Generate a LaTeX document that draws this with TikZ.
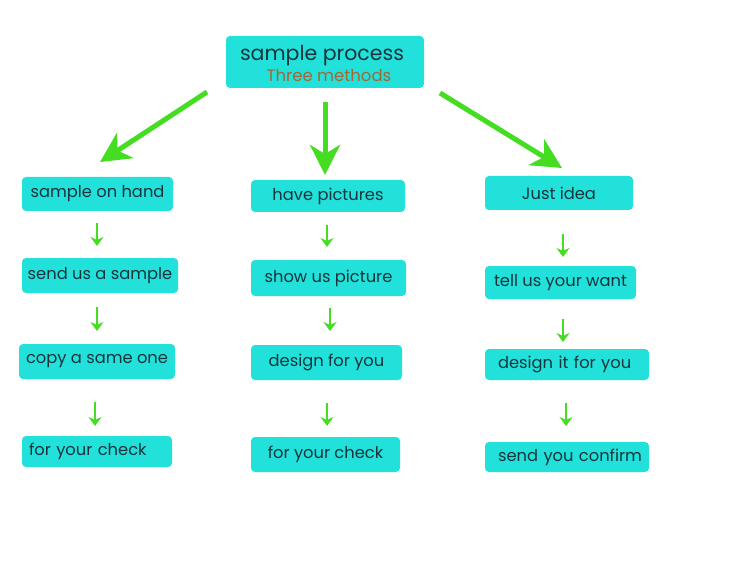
\documentclass[tikz,border=0pt]{standalone}
\usepackage{fontspec}
\setmainfont{Poppins}
\usetikzlibrary{arrows.meta}
\definecolor{boxfill}{HTML}{22E0DA}
\definecolor{boxtext}{HTML}{17343C}
\definecolor{arrowgreen}{HTML}{44DD22}
\definecolor{subtext}{HTML}{A0683A}
\tikzset{
  stepbox/.style={rectangle, rounded corners=4pt, fill=boxfill, draw=none, text=boxtext,
    font=\fontsize{16.3}{18}\selectfont, inner sep=0pt, anchor=center},
  bigarrow/.style={draw=arrowgreen, line width=5pt, -{Stealth[length=30pt,width=30pt,inset=9pt]}},
  smallarrow/.style={draw=arrowgreen, line width=2.5pt, -{Stealth[length=9pt,width=13pt,inset=3pt]}}
}
\begin{document}
\begin{tikzpicture}[x=1pt,y=-1pt]
\useasboundingbox (0,0) rectangle (752,572);
% title
\node[stepbox, minimum width=198pt, minimum height=52pt] (title) at (325,62) {};
\node[text=boxtext, font=\fontsize{20.5}{22}\selectfont, inner sep=0pt] (t1) at (322,56) {sample process};
\node[text=subtext, font=\fontsize{16.5}{18}\selectfont, inner sep=0pt] (t2) at (329,75) {Three methods};
% left column
\node[stepbox, minimum width=151pt, minimum height=34pt] (l1) at (97.5,194) {sample on hand};
\node[stepbox, minimum width=156pt, minimum height=35pt] (l2) at (100,275.5) {send us a sample};
\node[stepbox, minimum width=156pt, minimum height=35pt] (l3) at (97,361.5) {copy a same one};
\node[stepbox, minimum width=150pt, minimum height=31pt, text width=136pt, align=left] (l4) at (97,451.5) {\mbox{for your check}};
% middle column
\node[stepbox, minimum width=154pt, minimum height=32pt] (m1) at (328,196) {have pictures};
\node[stepbox, minimum width=155pt, minimum height=36pt] (m2) at (328.5,278) {show us picture};
\node[stepbox, minimum width=151pt, minimum height=35pt] (m3) at (326.5,362.5) {design for you};
\node[stepbox, minimum width=149pt, minimum height=35pt] (m4) at (325.5,454.5) {for your check};
% right column
\node[stepbox, minimum width=148pt, minimum height=34pt] (r1) at (559,193) {Just idea};
\node[stepbox, minimum width=151pt, minimum height=33pt] (r2) at (560.5,282.5) {tell us your want};
\node[stepbox, minimum width=164pt, minimum height=31pt, text width=138pt, align=left] (r3) at (567,364.5) {\mbox{design it for you}};
\node[stepbox, minimum width=164pt, minimum height=30pt, text width=138pt, align=left] (r4) at (567,457) {\mbox{send you confirm}};
% big arrow coordinates
\coordinate (bl0) at (207,92);  \coordinate (bl1) at (100,162);
\coordinate (bm0) at (325,102); \coordinate (bm1) at (325,175);
\coordinate (br0) at (440,93);  \coordinate (br1) at (562,168);
\draw[bigarrow] (bl0) -- (bl1);
\draw[bigarrow] (bm0) -- (bm1);
\draw[bigarrow] (br0) -- (br1);
% small arrow coordinates
\coordinate (la0) at (97,223);  \coordinate (la1) at (97,246);
\coordinate (lb0) at (97,307);  \coordinate (lb1) at (97,331);
\coordinate (lc0) at (95,402);  \coordinate (lc1) at (95,426);
\coordinate (ma0) at (327,225); \coordinate (ma1) at (327,247);
\coordinate (mb0) at (330,308); \coordinate (mb1) at (330,331);
\coordinate (mc0) at (327,403); \coordinate (mc1) at (327,426);
\coordinate (ra0) at (563,234); \coordinate (ra1) at (563,257);
\coordinate (rb0) at (563,319); \coordinate (rb1) at (563,342);
\coordinate (rc0) at (566,403); \coordinate (rc1) at (566,426);
\foreach \a in {la,lb,lc,ma,mb,mc,ra,rb,rc} \draw[smallarrow] (\a0) -- (\a1);
\end{tikzpicture}
\end{document}
